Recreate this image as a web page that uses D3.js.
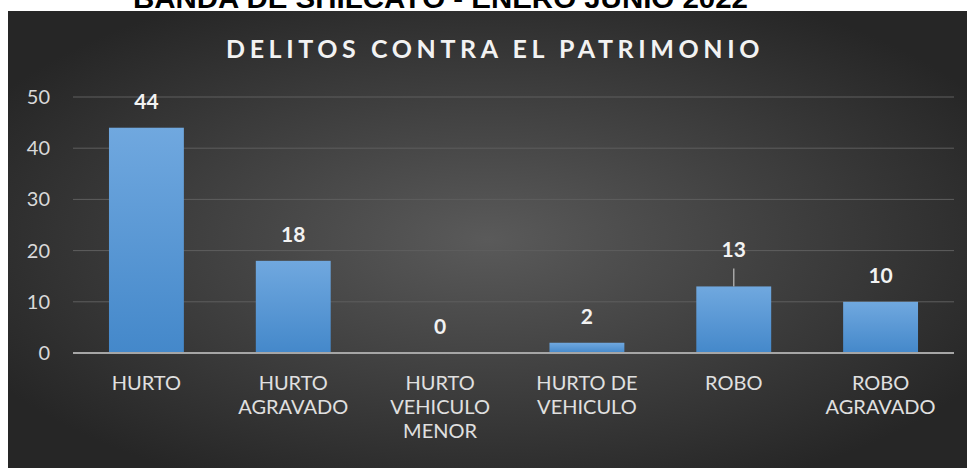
<!DOCTYPE html>
<html>
<head>
<meta charset="utf-8">
<script src="https://cdn.jsdelivr.net/npm/d3@7"></script>
<style>
  body { margin: 0; background: #fff; }
  svg { display: block; }
</style>
</head>
<body>
<svg></svg>
<script>
// chart data
const categories = [
  ['HURTO'],
  ['HURTO', 'AGRAVADO'],
  ['HURTO', 'VEHICULO', 'MENOR'],
  ['HURTO DE', 'VEHICULO'],
  ['ROBO'],
  ['ROBO', 'AGRAVADO']
]
const values = [44, 18, 0, 2, 13, 10]
const yTicks = [0, 10, 20, 30, 40, 50]
const title = 'DELITOS CONTRA EL PATRIMONIO'
const topTitle = 'BANDA DE SHILCAYO - ENERO JUNIO 2022'

const width = 968
const height = 468
const plotLeft = 73
const plotRight = 954
const plotTop = 97
const plotBottom = 353
const font = 'Lato, "Open Sans", sans-serif'

const svg = d3.select('svg')
  .attr('width', width)
  .attr('height', height)

const defs = svg.append('defs')

const bg = defs.append('radialGradient')
  .attr('id', 'bg')
  .attr('cx', '50%').attr('cy', '50%').attr('r', '60%')
bg.append('stop').attr('offset', '0%').attr('stop-color', '#5a5a5a')
bg.append('stop').attr('offset', '100%').attr('stop-color', '#262626')

const barGrad = defs.append('linearGradient')
  .attr('id', 'bar')
  .attr('x1', 0).attr('y1', 0).attr('x2', 0).attr('y2', 1)
barGrad.append('stop').attr('offset', '0%').attr('stop-color', '#70a8df')
barGrad.append('stop').attr('offset', '100%').attr('stop-color', '#4488ca')

// cropped heading above the panel
svg.append('text')
  .attr('x', 133)
  .attr('y', 8)
  .attr('textLength', 615)
  .attr('lengthAdjust', 'spacingAndGlyphs')
  .style('font-family', '"Liberation Sans", Arial, sans-serif')
  .attr('font-weight', 'bold')
  .attr('font-size', 27)
  .attr('fill', '#000')
  .text(topTitle)

svg.append('rect')
  .attr('x', 8)
  .attr('y', 11)
  .attr('width', 959)
  .attr('height', height - 11)
  .attr('fill', 'url(#bg)')

// chart title
svg.append('text')
  .attr('x', 495)
  .attr('y', 58)
  .attr('text-anchor', 'middle')
  .style('font-family', font)
  .attr('font-weight', 'bold')
  .attr('font-size', 25)
  .attr('letter-spacing', 4.6)
  .attr('fill', '#f2f2f2')
  .text(title)

const xScale = d3.scaleBand()
  .domain(d3.range(values.length))
  .range([plotLeft, plotRight])
  .paddingInner(0.49)
  .paddingOuter(0.245)

const yScale = d3.scaleLinear()
  .domain([0, 50])
  .range([plotBottom, plotTop])

// grid lines
svg.append('g')
  .selectAll('line')
  .data(yTicks.filter(d => d > 0))
  .enter()
  .append('line')
  .attr('x1', plotLeft)
  .attr('x2', plotRight)
  .attr('y1', d => yScale(d))
  .attr('y2', d => yScale(d))
  .attr('stroke', '#5e5e5e')
  .attr('stroke-width', 1)

// y axis labels
const yAxis = d3.axisLeft(yScale).tickValues(yTicks).tickSize(0).tickPadding(0)
const yG = svg.append('g')
  .attr('transform', 'translate(50, 0)')
  .call(yAxis)
yG.select('.domain').remove()
yG.selectAll('text')
  .attr('font-size', 20)
  .attr('fill', '#d9d9d9')
  .style('font-family', font)

// bars
svg.append('g')
  .selectAll('rect')
  .data(values)
  .enter()
  .append('rect')
  .attr('x', (d, i) => xScale(i))
  .attr('y', d => yScale(d))
  .attr('width', xScale.bandwidth())
  .attr('height', d => plotBottom - yScale(d))
  .attr('fill', 'url(#bar)')

// zero line
svg.append('line')
  .attr('x1', plotLeft)
  .attr('x2', plotRight)
  .attr('y1', plotBottom)
  .attr('y2', plotBottom)
  .attr('stroke', '#a6a6a6')
  .attr('stroke-width', 2)

// data labels, the 13 label was dragged up with a leader line
const leaderIdx = 4
const leaderLift = 18
svg.append('g')
  .selectAll('text')
  .data(values)
  .enter()
  .append('text')
  .attr('x', (d, i) => xScale(i) + xScale.bandwidth() / 2)
  .attr('y', (d, i) => yScale(d) - (i === leaderIdx ? leaderLift + 11 : 19))
  .attr('text-anchor', 'middle')
  .style('font-family', font)
  .attr('font-weight', 'bold')
  .attr('font-size', 21)
  .attr('fill', '#f2f2f2')
  .text(d => d)

svg.append('line')
  .attr('x1', xScale(leaderIdx) + xScale.bandwidth() / 2)
  .attr('x2', xScale(leaderIdx) + xScale.bandwidth() / 2)
  .attr('y1', yScale(values[leaderIdx]) - leaderLift)
  .attr('y2', yScale(values[leaderIdx]))
  .attr('stroke', '#a6a6a6')
  .attr('stroke-width', 1.5)

// category labels
const catG = svg.append('g')
  .selectAll('text')
  .data(categories)
  .enter()
  .append('text')
  .attr('x', (d, i) => xScale(i) + xScale.bandwidth() / 2)
  .attr('y', 390)
  .attr('text-anchor', 'middle')
  .style('font-family', font)
  .attr('font-size', 20)
  .attr('fill', '#e0e0e0')

catG.selectAll('tspan')
  .data(d => d)
  .enter()
  .append('tspan')
  .attr('x', function () { return d3.select(this.parentNode).attr('x') })
  .attr('dy', (d, i) => i === 0 ? 0 : 24)
  .text(d => d)
</script>
</body>
</html>
